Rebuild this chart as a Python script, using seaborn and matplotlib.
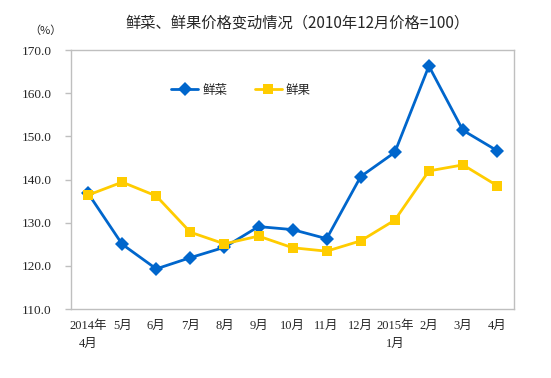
import pandas as pd
import matplotlib.pyplot as plt
import seaborn as sns

# data
months = ['2014年\n4月', '5月', '6月', '7月', '8月', '9月', '10月', '11月',
          '12月', '2015年\n1月', '2月', '3月', '4月']
vegetables = [136.8, 125.0, 119.3, 121.9, 124.3, 129.1, 128.4, 126.3,
              140.7, 146.3, 166.3, 151.4, 146.7]
fruits = [136.4, 139.4, 136.2, 127.8, 125.1, 126.9, 124.2, 123.4,
          125.8, 130.6, 142.0, 143.4, 138.6]
series_names = ['鲜菜', '鲜果']
yticks = [110, 120, 130, 140, 150, 160, 170]

sns.set_style('white')
plt.rcParams['font.family'] = ['Liberation Serif', 'Noto Sans CJK SC', 'DejaVu Sans']

df = pd.DataFrame({'x': list(range(len(months))) * 2,
                   'value': vegetables + fruits,
                   'series': [series_names[0]] * len(months) + [series_names[1]] * len(months)})

fig = plt.figure(figsize=(5.51, 3.78), dpi=100)
ax = fig.add_axes([0.129, 0.1825, 0.804, 0.685])

sns.lineplot(data=df, x='x', y='value', hue='series', style='series',
             palette=['#0066CC', '#FFCC00'], markers=['D', 's'], dashes=False,
             markersize=7, linewidth=2, markeredgewidth=0, ax=ax)

ax.set_xlim(-0.5, len(months) - 0.5)
ax.set_ylim(110, 170)
ax.set_yticks(yticks)
ax.set_yticklabels([f'{v:.1f}' for v in yticks], fontsize=9.5)
ax.set_xticks(range(len(months)))
ax.set_xticklabels(months, fontsize=9, linespacing=1.6)
ax.set_xlabel('')
ax.set_ylabel('')
ax.tick_params(axis='y', length=4, color='#BFBFBF', width=1, pad=10, direction='out', left=True)
ax.tick_params(axis='x', length=0, pad=8)
for s in ax.spines.values():
    s.set_color('#BFBFBF')
    s.set_linewidth(1)

# legend
handles, labels = ax.get_legend_handles_labels()
ax.legend(handles, labels, ncol=2, frameon=False, loc='center left',
          bbox_to_anchor=(0.2, 0.845), handlelength=2.2, columnspacing=2.2,
          handletextpad=0.3, prop={'family': ['Noto Sans CJK SC'], 'size': 9})

fig.text(0.54, 0.94, '鲜菜、鲜果价格变动情况（2010年12月价格=100）', ha='center', va='center',
         fontsize=11, family=['Noto Sans CJK SC'])
fig.text(0.082, 0.918, '（%）', ha='center', va='center', fontsize=8,
         family=['Noto Sans CJK SC'])

fig.savefig('out.png', dpi=100)
